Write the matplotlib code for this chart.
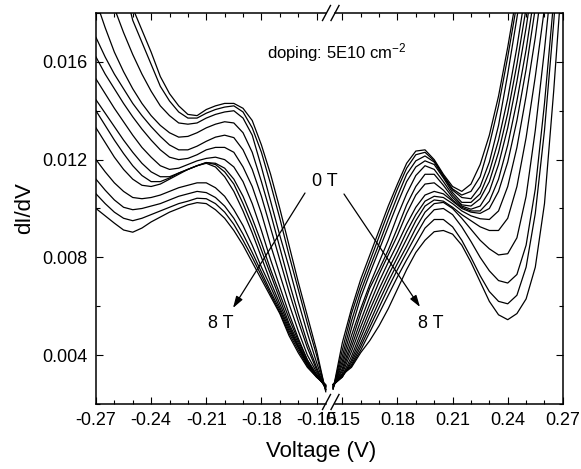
import numpy as np
import matplotlib.pyplot as plt
from matplotlib.lines import Line2D

plt.rcParams['font.family'] = ['Liberation Sans', 'DejaVu Sans']
plt.rcParams['mathtext.default'] = 'regular'
plt.rcParams['axes.unicode_minus'] = False

# bias voltage grids for the two branches (V)
v_neg = [-0.270, -0.265, -0.260, -0.255, -0.250, -0.245, -0.240, -0.235, -0.230,
         -0.225, -0.220, -0.215, -0.210, -0.205, -0.200, -0.195, -0.190, -0.185,
         -0.180, -0.175, -0.170, -0.165, -0.160, -0.155, -0.150, -0.145]
v_pos = [0.145, 0.150, 0.155, 0.160, 0.165, 0.170, 0.175, 0.180, 0.185, 0.190,
         0.195, 0.200, 0.205, 0.210, 0.215, 0.220, 0.225, 0.230, 0.235, 0.240,
         0.245, 0.250, 0.255, 0.260, 0.265, 0.270]

# dI/dV in units of 1e-3, one row per field, 0 T first and 8 T last
didv_neg = [
    [22.0, 21.0, 20.0, 19.1, 18.2, 17.3, 16.4, 15.4, 14.7, 14.2, 13.85, 13.8, 14.05, 14.2, 14.3, 14.3, 14.1, 13.6, 12.6, 11.4, 10.0, 8.5, 7.0, 5.6, 4.2, 2.5],
    [22.8, 21.6, 20.4, 19.2, 17.7, 16.8, 15.9, 15.0, 14.4, 13.95, 13.7, 13.7, 13.9, 14.05, 14.15, 14.2, 13.95, 13.3, 12.3, 11.0, 9.6, 8.1, 6.7, 5.3, 4.0, 2.55],
    [21.0, 19.6, 18.2, 17.2, 16.3, 15.5, 14.8, 14.2, 13.8, 13.5, 13.45, 13.5, 13.7, 13.85, 13.95, 14.0, 13.7, 13.0, 11.7, 10.3, 8.9, 7.6, 6.2, 4.9, 3.7, 2.6],
    [18.5, 17.4, 16.4, 15.6, 14.9, 14.3, 13.8, 13.4, 13.1, 12.92, 12.95, 13.1, 13.3, 13.45, 13.55, 13.5, 13.1, 12.3, 11.1, 9.8, 8.4, 7.0, 5.7, 4.5, 3.5, 2.6],
    [17.0, 16.2, 15.5, 14.9, 14.3, 13.8, 13.35, 12.95, 12.6, 12.4, 12.4, 12.55, 12.75, 12.92, 13.0, 12.9, 12.4, 11.6, 10.5, 9.2, 7.9, 6.6, 5.4, 4.3, 3.4, 2.6],
    [16.2, 15.5, 14.9, 14.3, 13.75, 13.25, 12.8, 12.4, 12.1, 12.0, 12.05, 12.2, 12.4, 12.5, 12.5, 12.3, 11.7, 10.9, 9.8, 8.5, 7.3, 6.1, 5.0, 4.0, 3.3, 2.65],
    [15.3, 14.7, 14.1, 13.55, 13.0, 12.5, 12.1, 11.75, 11.6, 11.65, 11.8, 11.95, 12.05, 12.1, 12.0, 11.7, 11.1, 10.2, 9.1, 7.9, 6.8, 5.7, 4.7, 3.8, 3.2, 2.7],
    [14.45, 13.9, 13.35, 12.8, 12.3, 11.85, 11.5, 11.3, 11.3, 11.45, 11.6, 11.75, 11.88, 11.85, 11.65, 11.2, 10.5, 9.6, 8.6, 7.5, 6.5, 5.5, 4.6, 3.8, 3.2, 2.7],
    [14.0, 13.4, 12.8, 12.25, 11.75, 11.35, 11.1, 11.1, 11.25, 11.45, 11.6, 11.75, 11.88, 11.8, 11.5, 11.0, 10.2, 9.3, 8.3, 7.3, 6.3, 5.3, 4.5, 3.7, 3.15, 2.7],
    [13.3, 12.7, 12.1, 11.6, 11.2, 10.95, 10.9, 11.0, 11.2, 11.4, 11.6, 11.75, 11.85, 11.7, 11.3, 10.7, 9.9, 9.0, 8.0, 7.0, 6.1, 5.2, 4.4, 3.7, 3.15, 2.7],
    [12.0, 11.5, 11.05, 10.7, 10.45, 10.4, 10.45, 10.55, 10.7, 10.85, 10.95, 11.05, 11.05, 10.85, 10.5, 9.95, 9.3, 8.5, 7.6, 6.8, 5.95, 5.1, 4.35, 3.65, 3.15, 2.75],
    [11.2, 10.75, 10.35, 10.05, 9.95, 10.0, 10.1, 10.2, 10.35, 10.5, 10.6, 10.7, 10.65, 10.45, 10.1, 9.6, 8.95, 8.2, 7.4, 6.6, 5.85, 5.0, 4.3, 3.6, 3.15, 2.75],
    [10.6, 10.2, 9.85, 9.6, 9.5, 9.6, 9.75, 9.9, 10.05, 10.2, 10.3, 10.42, 10.4, 10.2, 9.85, 9.35, 8.7, 8.0, 7.25, 6.5, 5.75, 4.9, 4.2, 3.55, 3.1, 2.75],
    [10.0, 9.7, 9.4, 9.12, 9.03, 9.2, 9.45, 9.65, 9.85, 10.0, 10.15, 10.24, 10.2, 9.95, 9.6, 9.1, 8.5, 7.8, 7.1, 6.4, 5.7, 4.8, 4.1, 3.5, 3.1, 2.8],
]
didv_pos = [
    [2.6, 4.5, 5.9, 7.1, 8.1, 9.1, 10.1, 11.0, 11.85, 12.35, 12.4, 12.0, 11.4, 10.9, 10.7, 11.0, 11.8, 13.0, 14.6, 16.6, 18.8, 21.2, 23.8, 26.5, 29.2, 32.0],
    [2.62, 4.2, 5.7, 6.85, 7.85, 8.85, 9.85, 10.8, 11.65, 12.2, 12.3, 11.95, 11.35, 10.8, 10.55, 10.7, 11.3, 12.6, 14.2, 16.2, 18.4, 20.8, 23.3, 25.9, 28.6, 31.4],
    [2.64, 3.95, 5.4, 6.6, 7.6, 8.55, 9.55, 10.5, 11.4, 11.95, 12.15, 11.9, 11.3, 10.75, 10.45, 10.4, 10.9, 11.9, 13.4, 15.5, 17.8, 20.2, 22.7, 25.3, 28.0, 30.7],
    [2.66, 3.75, 5.1, 6.35, 7.35, 8.3, 9.25, 10.2, 11.1, 11.7, 11.95, 11.8, 11.25, 10.65, 10.25, 10.25, 10.6, 11.5, 12.8, 14.5, 16.6, 19.0, 21.5, 24.0, 26.7, 29.4],
    [2.68, 3.6, 4.8, 5.9, 6.9, 7.8, 8.7, 9.7, 10.6, 11.35, 11.75, 11.6, 11.1, 10.55, 10.15, 10.1, 10.4, 11.1, 12.3, 13.9, 15.9, 18.2, 20.7, 23.3, 26.0, 28.7],
    [2.7, 3.45, 4.55, 5.7, 6.75, 7.5, 8.3, 9.2, 10.15, 10.9, 11.4, 11.4, 10.95, 10.45, 10.1, 9.97, 10.1, 10.7, 11.8, 13.3, 15.2, 17.4, 19.9, 22.5, 25.2, 28.0],
    [2.72, 3.35, 4.35, 5.4, 6.4, 7.3, 8.1, 8.9, 9.8, 10.55, 11.0, 11.05, 10.75, 10.35, 10.05, 9.9, 9.9, 10.3, 11.2, 12.6, 14.4, 16.5, 19.0, 21.6, 24.3, 27.0],
    [2.74, 3.25, 4.15, 5.15, 6.1, 7.0, 7.8, 8.55, 9.35, 10.05, 10.55, 10.7, 10.6, 10.3, 10.0, 9.85, 9.8, 10.0, 10.7, 11.9, 13.6, 15.7, 18.2, 20.8, 23.5, 26.3],
    [2.76, 3.15, 3.95, 4.9, 5.85, 6.7, 7.5, 8.25, 9.05, 9.75, 10.3, 10.5, 10.45, 10.2, 9.9, 9.7, 9.58, 9.55, 9.9, 10.9, 12.5, 14.6, 17.0, 19.8, 22.6, 25.4],
    [2.78, 3.1, 3.8, 4.7, 5.6, 6.45, 7.25, 8.0, 8.75, 9.5, 10.1, 10.35, 10.3, 10.05, 9.75, 9.5, 9.25, 9.1, 9.1, 9.6, 10.9, 12.9, 15.4, 18.2, 21.2, 24.2],
    [2.8, 3.1, 3.7, 4.5, 5.35, 6.2, 7.0, 7.75, 8.45, 9.2, 9.85, 10.2, 10.25, 10.0, 9.6, 9.15, 8.7, 8.35, 8.1, 8.15, 8.8, 10.5, 13.2, 16.5, 20.2, 24.0],
    [2.8, 3.15, 3.6, 4.35, 5.15, 5.95, 6.75, 7.5, 8.2, 8.9, 9.55, 9.95, 10.0, 9.75, 9.25, 8.65, 8.0, 7.45, 7.05, 6.95, 7.3, 8.5, 10.8, 14.3, 18.5, 23.0],
    [2.8, 3.2, 3.55, 4.2, 4.95, 5.7, 6.45, 7.2, 7.9, 8.55, 9.2, 9.55, 9.55, 9.25, 8.7, 8.0, 7.25, 6.6, 6.2, 6.1, 6.45, 7.6, 9.8, 13.2, 17.6, 22.5],
    [2.8, 3.2, 3.5, 4.1, 4.6, 5.2, 5.9, 6.7, 7.5, 8.2, 8.7, 9.05, 9.1, 8.95, 8.5, 7.8, 7.0, 6.2, 5.65, 5.45, 5.7, 6.3, 7.6, 10.2, 14.8, 20.0],
]
scale = 1e-3

xt_neg = [-0.27, -0.24, -0.21, -0.18, -0.15]
xt_pos = [0.15, 0.18, 0.21, 0.24, 0.27]
xm_neg = [-0.26, -0.25, -0.23, -0.22, -0.20, -0.19, -0.17, -0.16]
xm_pos = [0.16, 0.17, 0.19, 0.20, 0.22, 0.23, 0.25, 0.26]
yt = [0.004, 0.008, 0.012, 0.016]
yt_labels = ['0.004', '0.008', '0.012', '0.016']
ym = [0.002, 0.006, 0.010, 0.014, 0.018]

W, H = 581, 469
fig = plt.figure(figsize=(W / 100, H / 100), dpi=100)
axl = fig.add_axes([0.1652, 0.1386, 0.4018, 0.8337])
axr = fig.add_axes([0.5670, 0.1386, 0.4018, 0.8337])

for row in didv_neg:
    axl.plot(v_neg, np.array(row) * scale, color='black', lw=0.9)
for row in didv_pos:
    axr.plot(v_pos, np.array(row) * scale, color='black', lw=0.9)

axl.set_xlim(-0.27, -0.143)
axr.set_xlim(0.143, 0.27)
for ax in (axl, axr):
    ax.set_ylim(0.002, 0.018)
    ax.set_yticks(yt)
    ax.set_yticks(ym, minor=True)
    for s in ax.spines.values():
        s.set_linewidth(1.1)
    ax.tick_params(which='major', direction='in', length=5, width=0.8, labelsize=13)
    ax.tick_params(which='minor', direction='in', length=3, width=0.8)

axl.set_xticks(xt_neg)
axl.set_xticklabels([f'{v:.2f}' for v in xt_neg])
axl.set_xticks(xm_neg, minor=True)
axl.set_yticklabels(yt_labels)
axl.spines['right'].set_visible(False)
axl.tick_params(which='both', top=True, right=False, left=True)
axl.tick_params(axis='x', pad=6)
axl.tick_params(axis='y', pad=6)

axr.set_xticks(xt_pos)
axr.set_xticklabels([f'{v:.2f}' for v in xt_pos])
axr.set_xticks(xm_pos, minor=True)
axr.spines['left'].set_visible(False)
axr.tick_params(which='both', top=True, right=True, left=False, labelleft=False)
axr.tick_params(axis='x', pad=6)

# axis break: leave a gap between the slashes
axl.spines['bottom'].set_bounds(-0.27, -0.1449)
axl.spines['top'].set_bounds(-0.27, -0.1449)
axr.spines['bottom'].set_bounds(0.1460, 0.27)
axr.spines['top'].set_bounds(0.1460, 0.27)


def fx(px):
    return px / W


def fy(py):
    return 1 - py / H


for cx in (326.5, 335.0):
    for cy in (13, 402):
        fig.add_artist(Line2D([fx(cx - 4), fx(cx + 4)], [fy(cy + 7.5), fy(cy - 7.5)],
                              color='black', lw=1.0))

fig.text(fx(321), fy(451), 'Voltage (V)', ha='center', va='center', fontsize=16)
fig.text(fx(25), fy(208), 'dI/dV', ha='center', va='center', rotation=90, fontsize=16)
fig.text(fx(267), fy(53), 'doping: 5E10 cm$^{-2}$', ha='left', va='center', fontsize=12)
fig.text(fx(325), fy(181), '0 T', ha='center', va='center', fontsize=13)
fig.text(fx(220.5), fy(323), '8 T', ha='center', va='center', fontsize=13)
fig.text(fx(430.5), fy(323), '8 T', ha='center', va='center', fontsize=13)

arrow = dict(arrowstyle='-|>,head_length=0.7,head_width=0.22', color='black',
             lw=0.9, shrinkA=0, shrinkB=0, mutation_scale=10)
axl.annotate('', xy=(233, H - 308), xytext=(305, H - 193),
             xycoords='figure pixels', textcoords='figure pixels',
             arrowprops=arrow, annotation_clip=False)
axr.annotate('', xy=(420, H - 307), xytext=(344, H - 194),
             xycoords='figure pixels', textcoords='figure pixels',
             arrowprops=arrow, annotation_clip=False)

fig.savefig('out.png', dpi=100)
